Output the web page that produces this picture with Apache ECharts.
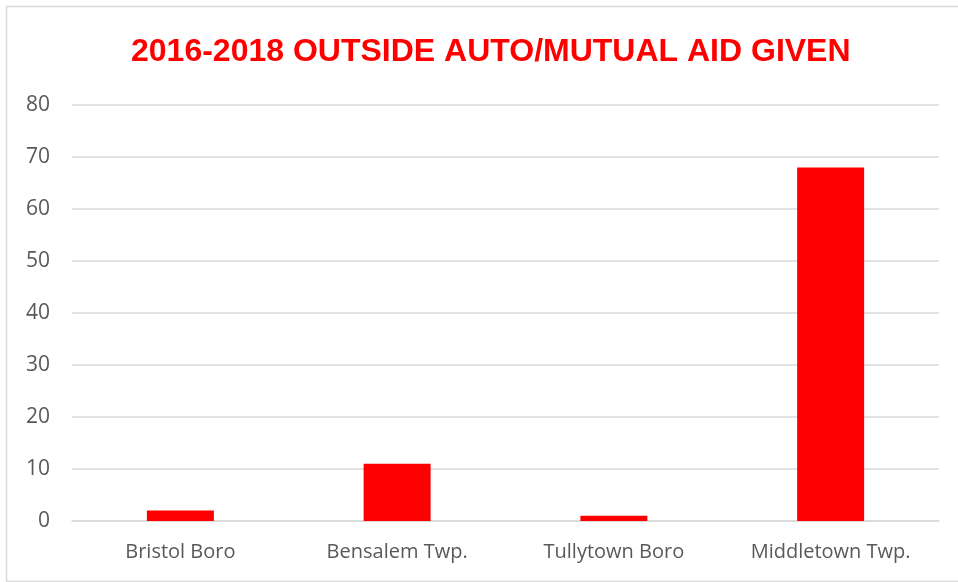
<!DOCTYPE html>
<html><head><meta charset="utf-8">
<script src="https://cdn.jsdelivr.net/npm/echarts@6/dist/echarts.min.js"></script>
<style>html,body{margin:0;padding:0;background:#fff}#c{width:958px;height:582px}</style>
</head><body><div id="c"></div>
<script>
const categories = ['Bristol Boro', 'Bensalem Twp.', 'Tullytown Boro', 'Middletown Twp.'];
const values = [2, 11, 1, 68];
const titleText = '2016-2018 OUTSIDE AUTO/MUTUAL AID GIVEN';

const chart = echarts.init(document.getElementById('c'), null, {renderer: 'canvas'});
chart.setOption({
  animation: false,
  backgroundColor: '#fff',
  graphic: [{
    type: 'rect', left: 4, top: 4, shape: {width: 970, height: 575},
    style: {fill: 'none', stroke: '#d9d9d9', lineWidth: 1.5}, silent: true
  }],
  title: {
    text: titleText, left: 126, top: 31,
    textStyle: {color: '#ff0000', fontFamily: 'Liberation Sans', fontWeight: 'bold', fontSize: 32}
  },
  grid: {left: 72, right: 19, top: 105, bottom: 61, containLabel: false},
  xAxis: {
    type: 'category', data: categories,
    axisLine: {show: true, lineStyle: {color: '#d9d9d9', width: 1.5}},
    axisTick: {show: false},
    axisLabel: {color: '#595959', fontFamily: 'Open Sans', fontSize: 20, margin: 21}
  },
  yAxis: {
    type: 'value', min: 0, max: 80, interval: 10,
    axisLine: {show: false}, axisTick: {show: false},
    splitLine: {lineStyle: {color: '#d9d9d9', width: 1.5}},
    axisLabel: {color: '#595959', fontFamily: 'Open Sans', fontSize: 21, margin: 22}
  },
  series: [{
    type: 'bar', data: values, barWidth: 67,
    itemStyle: {color: '#ff0000'}
  }]
});
</script></body></html>
